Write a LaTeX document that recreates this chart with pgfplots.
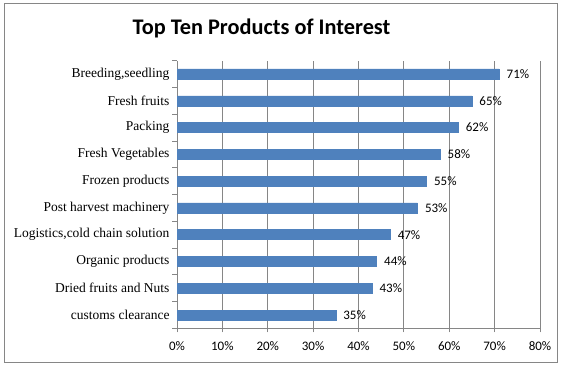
\documentclass[border=0pt]{standalone}
\usepackage{pgfplots}
\pgfplotsset{compat=1.18}
\usepackage{fontspec}
\setmainfont{Liberation Serif}
\newfontfamily\calfont{Carlito}
\definecolor{barblue}{HTML}{4F81BD}
\definecolor{gridgray}{HTML}{868686}
\begin{document}
\begin{tikzpicture}
\useasboundingbox (0,0) rectangle (561bp,365bp);
\draw[gridgray, line width=0.8bp] (4bp,3bp) rectangle (557bp,362bp);
\node[font=\calfont\bfseries\fontsize{22.3bp}{26bp}\selectfont] at (261.5bp,337bp) {Top Ten Products of Interest};
\begin{axis}[
  at={(177bp,36.6bp)}, anchor=south west,
  scale only axis, width=363bp, height=267.8bp,
  xbar, bar width=10bp,
  xmin=0, xmax=80, ymin=-0.5, ymax=9.5,
  /pgf/number format/assume math mode=true,
  xtick={0,10,...,80},
  xticklabel={\pgfmathprintnumber{\tick}\%},
  xticklabel style={font=\calfont\fontsize{13bp}{15bp}\selectfont, yshift=-6bp},
  ytick={0,...,9},
  yticklabels={customs clearance,Dried fruits and Nuts,Organic products,{Logistics,cold chain solution},Post harvest machinery,Frozen products,Fresh Vegetables,Packing,Fresh fruits,{Breeding,seedling}},
  yticklabel style={font=\fontsize{13.5bp}{15bp}\selectfont},
  minor ytick={-0.5,0.5,...,9.5},
  major tick length=4bp, minor tick length=5bp,
  tick align=outside,
  ytick style={draw=none},
  minor y tick style={draw=gridgray, line width=0.8bp},
  xtick style={draw=gridgray, line width=0.8bp},
  xmajorgrids, grid style={gridgray, line width=0.8bp},
  axis x line*=bottom, axis y line*=left,
  axis line style={gridgray, line width=0.8bp},
  nodes near coords={\pgfmathprintnumber{\pgfplotspointmeta}\%},
  nodes near coords style={font=\calfont\fontsize{13bp}{15bp}\selectfont, anchor=west, xshift=4bp},
  clip=false,
]
\addplot[fill=barblue, draw=barblue] coordinates {
(35,0) (43,1) (44,2) (47,3) (53,4) (55,5) (58,6) (62,7) (65,8) (71,9)};
\end{axis}
\end{tikzpicture}
\end{document}
